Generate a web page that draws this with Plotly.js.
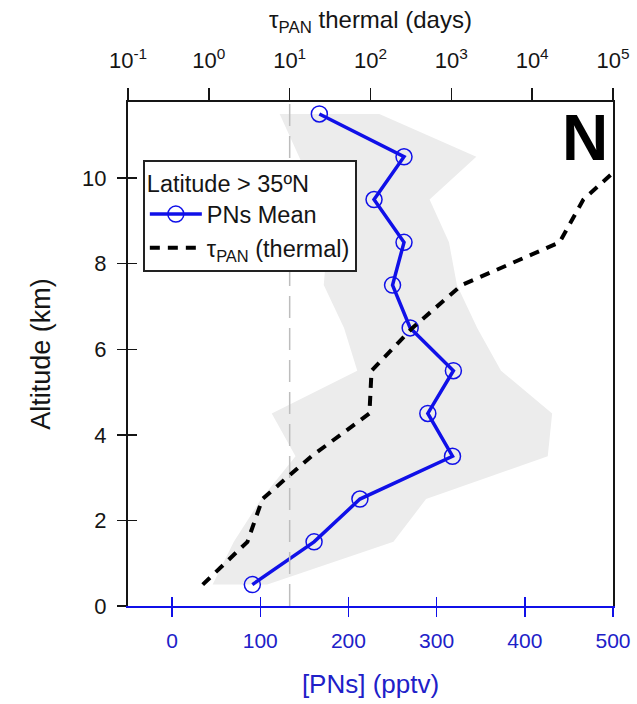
<!DOCTYPE html>
<html>
<head>
<meta charset="utf-8">
<script src="https://cdn.plot.ly/plotly-3.0.1.min.js"></script>
<style>
html,body{margin:0;padding:0;background:#fff;}
#chart{width:637px;height:704px;}
</style>
</head>
<body>
<div id="chart"></div>
<script>
// Altitude bins (km)
const altitude = [0.5, 1.5, 2.5, 3.5, 4.5, 5.5, 6.5, 7.5, 8.5, 9.5, 10.5, 11.5];
// Mean PNs mixing ratio (pptv)
const pnsMean = [91, 161, 213, 318, 290, 319, 270, 250, 263, 229, 263, 167];
// Shaded variability envelope (pptv)
const pnsLow  = [46, 70, 101, 140, 113, 210, 195, 172, 176, 165, 144, 122];
const pnsHigh = [108, 251, 288, 426, 431, 373, 346, 323, 314, 292, 345, 235];
// PAN thermal lifetime (days)
const tauAltitude = [0.5, 1.5, 2.5, 3.5, 4.5, 5.5, 6.5, 7.5, 8.5, 9.5, 10.5];
const tauPanDays  = [0.84, 3.0, 4.6, 18.6, 97, 103, 330, 1340, 21800, 43000, 165000];
// Reference lifetime marker (days)
const tauReference = [10, 10];
const tauReferenceAlt = [0, 11.78];
// Ticks
const altTicks = [0, 2, 4, 6, 8, 10];
const pptvTicks = [0, 100, 200, 300, 400, 500];
const dayTickVals = [0.1, 1, 10, 100, 1000, 10000, 100000];
const dayTickText = ['10<sup>-1</sup>', '10<sup>0</sup>', '10<sup>1</sup>', '10<sup>2</sup>', '10<sup>3</sup>', '10<sup>4</sup>', '10<sup>5</sup>'];

const blue = '#1010e8';
const blueText = '#2020c8';
const ink = '#151515';

const envX = pnsLow.concat(pnsHigh.slice().reverse());
const envY = altitude.concat(altitude.slice().reverse());

const traces = [
  {
    x: envX, y: envY, xaxis: 'x', yaxis: 'y',
    type: 'scatter', mode: 'lines', fill: 'toself',
    fillcolor: '#ececec', line: {width: 0, color: 'rgba(0,0,0,0)'},
    showlegend: false, hoverinfo: 'skip'
  },
  {
    x: pnsMean, y: altitude, xaxis: 'x', yaxis: 'y',
    type: 'scatter', mode: 'lines+markers', name: 'PNs Mean',
    line: {color: blue, width: 3.5},
    marker: {symbol: 'circle-open', size: 16, color: blue, line: {width: 1.5, color: blue}}
  },
  {
    x: tauReference, y: tauReferenceAlt, xaxis: 'x2', yaxis: 'y',
    type: 'scatter', mode: 'lines', showlegend: false, hoverinfo: 'skip',
    line: {color: '#bdbdbd', width: 1.5, dash: '22px,10px'}
  },
  {
    x: tauPanDays, y: tauAltitude, xaxis: 'x2', yaxis: 'y',
    type: 'scatter', mode: 'lines', name: 'τ<sub>PAN</sub> (thermal)',
    line: {color: '#000', width: 4, dash: '10px,8px'}
  },
  {
    x: [null], y: [null], xaxis: 'x3', yaxis: 'y3',
    type: 'scatter', mode: 'markers', showlegend: false, hoverinfo: 'skip'
  }
];

const font = 'Arial, "Liberation Sans", sans-serif';

const layout = {
  width: 637, height: 704,
  margin: {l: 128, r: 24, t: 102, b: 98, pad: 0},
  paper_bgcolor: '#fff', plot_bgcolor: '#fff',
  font: {family: font, size: 21, color: ink},
  showlegend: true,
  legend: {
    x: 0.031, y: 0.885, xanchor: 'left', yanchor: 'top',
    bgcolor: '#fff', bordercolor: '#222', borderwidth: 1.8,
    font: {family: font, size: 23.5, color: ink},
    title: {text: 'Latitude > 35ºN', font: {family: font, size: 23.5, color: ink}},
    itemwidth: 52, tracegroupgap: 0
  },
  xaxis: {
    range: [-50, 500], tickvals: pptvTicks, ticks: 'outside', ticklen: 9, tickwidth: 1.5,
    tickcolor: blue, showline: true, linecolor: blue, linewidth: 2,
    showgrid: false, zeroline: false, ticklabelstandoff: 6,
    tickfont: {family: font, size: 21, color: blueText},
    title: {text: '[PNs] (pptv)', font: {family: font, size: 26, color: blueText}, standoff: 24}
  },
  xaxis2: {
    type: 'log', range: [-1, 5], overlaying: 'x', side: 'top', anchor: 'y',
    tickvals: dayTickVals, ticktext: dayTickText, ticks: 'outside', ticklen: 12, tickwidth: 1.5,
    tickcolor: ink, showline: true, linecolor: ink, linewidth: 2,
    showgrid: false, zeroline: false, ticklabelstandoff: 11,
    tickfont: {family: font, size: 22, color: ink},
    title: {text: 'τ<sub>PAN</sub> thermal (days)', font: {family: font, size: 24, color: ink}, standoff: 10}
  },
  xaxis3: {
    range: [-50, 500], overlaying: 'x', side: 'bottom', anchor: 'y',
    tickvals: pptvTicks, ticks: 'inside', ticklen: 9, tickwidth: 1.5, tickcolor: blue,
    showticklabels: false, showline: false, showgrid: false, zeroline: false
  },
  yaxis: {
    range: [0, 11.78], tickvals: altTicks, ticks: 'outside', ticklen: 9, tickwidth: 1.5,
    tickcolor: ink, showline: true, linecolor: ink, linewidth: 2, mirror: true,
    showgrid: false, zeroline: false, ticklabelstandoff: 6,
    tickfont: {family: font, size: 22, color: ink},
    title: {text: 'Altitude (km)', font: {family: font, size: 27, color: ink}, standoff: 24}
  },
  yaxis3: {
    range: [0, 11.78], overlaying: 'y', side: 'left', anchor: 'x',
    tickvals: altTicks, ticks: 'inside', ticklen: 9, tickwidth: 1.5, tickcolor: ink,
    showticklabels: false, showline: false, showgrid: false, zeroline: false
  },
  annotations: [
    {text: '<b>N</b>', xref: 'paper', yref: 'paper', x: 0.942, y: 0.929,
     xanchor: 'center', yanchor: 'middle', showarrow: false,
     font: {family: font, size: 64, color: '#000'}}
  ]
};

Plotly.newPlot('chart', traces, layout, {displayModeBar: false, staticPlot: true});
</script>
</body>
</html>
